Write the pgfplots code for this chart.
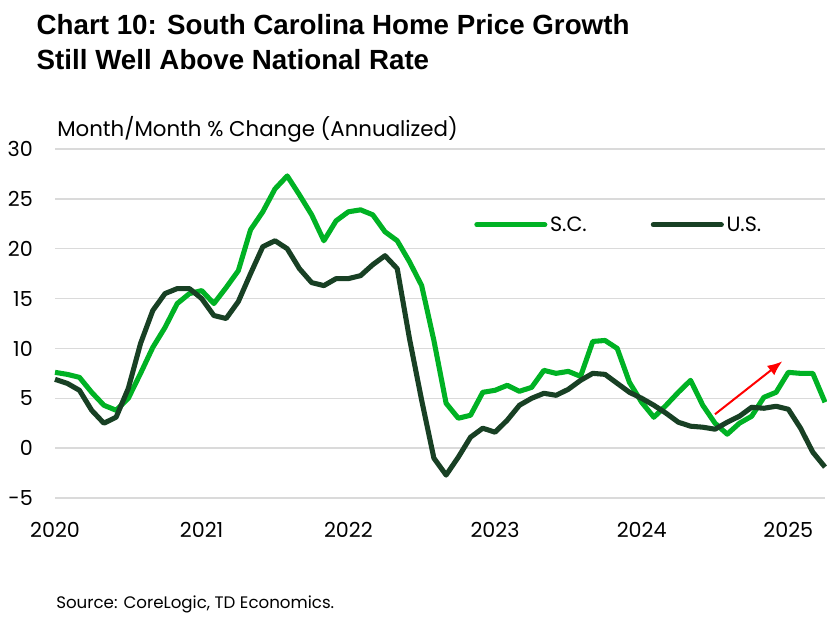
\documentclass[border=0pt]{standalone}
\usepackage{fontspec}
\setmainfont{Poppins}
\newfontfamily\titlefont{Liberation Sans}
\usepackage{pgfplots}
\pgfplotsset{compat=1.18}
\usetikzlibrary{arrows.meta}

\definecolor{scgreen}{RGB}{0,178,36}
\definecolor{usgreen}{RGB}{24,64,36}
\definecolor{gridgray}{RGB}{218,218,218}

% month index (0 = Jan 2020), S.C., U.S.
\pgfplotstableread{
m  sc    us
0  7.6   6.9
1  7.4   6.5
2  7.1   5.8
3  5.6   3.8
4  4.3   2.5
5  3.8   3.1
6  5.0   6.0
7  7.5   10.5
8  10.1  13.8
9  12.1  15.5
10 14.5  16.0
11 15.5  16.0
12 15.8  15.0
13 14.5  13.3
14 16.1  13.0
15 17.8  14.7
16 21.9  17.5
17 23.7  20.2
18 26.0  20.8
19 27.3  20.0
20 25.4  18.0
21 23.4  16.6
22 20.8  16.3
23 22.8  17.0
24 23.7  17.0
25 23.9  17.3
26 23.4  18.4
27 21.7  19.3
28 20.8  18.0
29 18.7  11.0
30 16.3  4.8
31 10.8  -1.0
32 4.5   -2.7
33 3.0   -0.9
34 3.3   1.1
35 5.6   2.0
36 5.8   1.6
37 6.3   2.8
38 5.7   4.3
39 6.1   5.0
40 7.8   5.5
41 7.5   5.3
42 7.7   5.9
43 7.2   6.8
44 10.7  7.5
45 10.8  7.4
46 10.0  6.5
47 6.6   5.6
48 4.6   5.0
49 3.1   4.3
50 4.3   3.5
51 5.6   2.6
52 6.8   2.2
53 4.3   2.1
54 2.5   1.9
55 1.4   2.6
56 2.5   3.2
57 3.2   4.1
58 5.1   4.0
59 5.6   4.2
60 7.6   3.9
61 7.5   2.0
62 7.5   -0.4
63 4.6   -1.9
}\homeprices

\begin{document}
\begin{tikzpicture}
\begin{axis}[
  at={(0pt,0pt)}, anchor=south west,
  scale only axis, width=577.5pt, height=261.75pt,
  xmin=0, xmax=63, ymin=-5, ymax=30,
  ytick={-5,0,...,30},
  xtick={0,12,24,36,48,60},
  xticklabels={2020,2021,2022,2023,2024,2025},
  axis line style={draw=none},
  major tick length=0pt,
  ymajorgrids,
  grid style={gridgray, line width=1.1pt},
  tick label style={font=\fontsize{15.5}{18}\selectfont, inner sep=0pt},
  yticklabel style={anchor=east},
  xticklabel style={anchor=north},
  yticklabel shift=16.5pt,
  xticklabel shift=18pt,
  /pgf/number format/assume math mode=true,
  clip=false,
  legend columns=2,
  legend style={draw=none, fill=none, at={(0.539,0.783)}, anchor=west,
    font=\fontsize{15.5}{18}\selectfont,
    /tikz/every even column/.append style={column sep=46pt}},
  legend image code/.code={\draw[#1, line cap=round] (0pt,0pt) -- (51pt,0pt);},
]
\addplot[scgreen, line width=3.8pt, line join=round] table[x=m, y=sc] {\homeprices};
\addlegendentry{S.C.}
\addplot[usgreen, line width=3.8pt, line join=round] table[x=m, y=us] {\homeprices};
\addlegendentry{U.S.}
\draw[red, line width=1.5pt, -{Latex[length=11pt,width=9pt]}]
  (axis cs:54,3.4) -- (axis cs:59.5,8.7);
\end{axis}
\node[anchor=base west, font=\titlefont\bfseries\fontsize{20.8}{24}\selectfont]
  at (-17.25pt,347.25pt) {Chart 10: South Carolina Home Price Growth};
\node[anchor=base west, font=\titlefont\bfseries\fontsize{20.8}{24}\selectfont]
  at (-17.25pt,321pt) {Still Well Above National Rate};
\node[anchor=base west, inner sep=0pt, font=\fontsize{16}{19}\selectfont]
  at (1.5pt,270.75pt) {Month/Month \% Change (Annualized)};
\node[anchor=base west, inner sep=0pt, font=\fontsize{12.5}{15}\selectfont]
  at (0.75pt,-82.5pt) {Source: CoreLogic, TD Economics.};
\pgfresetboundingbox
\path[use as bounding box] (-41.25pt,-89.25pt) rectangle (579pt,373.5pt);
\end{tikzpicture}
\end{document}
